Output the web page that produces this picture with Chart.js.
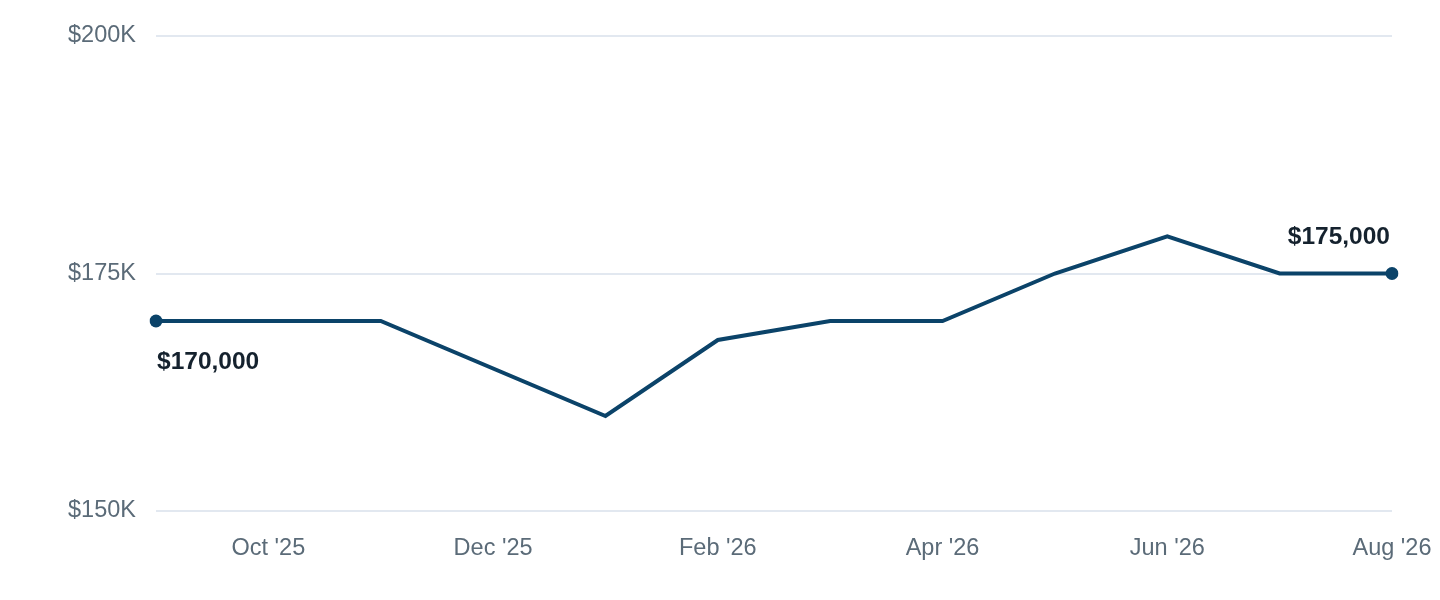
<!DOCTYPE html>
<html>
<head>
<meta charset="utf-8">
<script src="https://cdn.jsdelivr.net/npm/chart.js@4.4.1/dist/chart.umd.min.js"></script>
<style>
    html, body { margin: 0; padding: 0; background: #fff; }
    #grafico { width: 1440px; height: 600px; }
</style>
</head>
<body>
<div id="grafico"><canvas id="valor"></canvas></div>
<script>
const meses = ["Sep '25", "Oct '25", "Nov '25", "Dec '25", "Jan '26", "Feb '26", "Mar '26", "Apr '26", "May '26", "Jun '26", "Jul '26", "Aug '26"];
const valores = [170000, null, 170000, null, 160000, 168000, 170000, 170000, 175000, 178900, 175000, 175000];
const ticksY = [150000, 175000, 200000];

const azul = '#0b4369';
const gris = '#5b6b78';

// Etiquetas en el primer y ultimo punto
const etiquetas = {
    id: 'etiquetas',
    afterDatasetsDraw(chart) {
        const meta = chart.getDatasetMeta(0);
        const ctx = chart.ctx;
        const ultimo = valores.length - 1;
        const formato = v => '$' + v.toLocaleString('en-US');
        ctx.save();
        ctx.font = 'bold 24.5px "Liberation Sans", Arial, sans-serif';
        ctx.fillStyle = '#15222e';
        ctx.textBaseline = 'middle';

        const p0 = meta.data[0];
        ctx.textAlign = 'left';
        ctx.fillText(formato(valores[0]), p0.x + 1, p0.y + 41);

        const p1 = meta.data[ultimo];
        ctx.textAlign = 'right';
        ctx.fillText(formato(valores[ultimo]), p1.x - 2, p1.y - 36);
        ctx.restore();
    }
};

const ctx = document.getElementById('valor').getContext('2d');
let myChart = new Chart(ctx, {
    type: 'line',
    data: {
        labels: meses,
        datasets: [{
            data: valores,
            borderColor: azul,
            borderWidth: 4,
            tension: 0,
            spanGaps: true,
            pointRadius: c => (c.dataIndex === 0 || c.dataIndex === valores.length - 1) ? 6.5 : 0,
            pointHoverRadius: 0,
            pointBackgroundColor: azul,
            pointBorderWidth: 0
        }]
    },
    options: {
        responsive: true,
        maintainAspectRatio: false,
        animation: false,
        layout: { padding: { top: 36, right: 48, bottom: 0, left: 0 } },
        plugins: {
            legend: { display: false },
            tooltip: { enabled: false }
        },
        scales: {
            x: {
                offset: false,
                grid: { display: false, drawTicks: false },
                border: { display: false },
                afterFit: s => {
                    s.height = 89;
                    s.paddingLeft = 0;
                    s.paddingRight = 0;
                },
                ticks: {
                    autoSkip: false,
                    maxRotation: 0,
                    padding: 23,
                    color: gris,
                    font: { size: 23.5, family: '"Liberation Sans", Arial, sans-serif' },
                    callback: (v, i) => i % 2 === 1 ? meses[i] : ''
                }
            },
            y: {
                min: 150000,
                max: 200000,
                afterBuildTicks: s => { s.ticks = ticksY.map(v => ({ value: v })); },
                afterFit: s => {
                    s.width = 156;
                    s.paddingTop = 0;
                    s.paddingBottom = 0;
                },
                grid: { color: '#e2e8f0', lineWidth: 2, drawTicks: false },
                border: { display: false },
                ticks: {
                    padding: 20,
                    color: gris,
                    font: { size: 23.5, family: '"Liberation Sans", Arial, sans-serif' },
                    callback: v => '$' + (v / 1000) + 'K'
                }
            }
        }
    },
    plugins: [etiquetas]
});
</script>
</body>
</html>
